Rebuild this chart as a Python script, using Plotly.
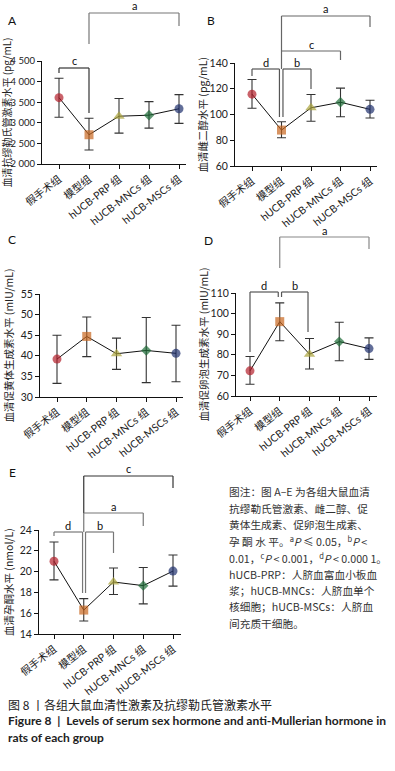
import plotly.graph_objects as go

W, H = 395, 771

categories = ["假手术组", "模型组", "hUCB-PRP 组", "hUCB-MNCs 组", "hUCB-MSCs 组"]

# Panel A: anti-Mullerian hormone (pg/mL)
amh_mean = [3610, 2710, 3160, 3185, 3340]
amh_upper = [4080, 3110, 3590, 3515, 3685]
amh_lower = [3135, 2340, 2750, 2870, 2985]

# Panel B: estradiol (pg/mL)
e2_mean = [115.8, 87.9, 105.2, 109.5, 104.0]
e2_upper = [127.2, 94.4, 115.5, 120.5, 111.1]
e2_lower = [104.8, 81.9, 94.7, 98.3, 97.3]

# Panel C: LH (mIU/mL)
lh_mean = [39.2, 44.7, 40.5, 41.3, 40.6]
lh_upper = [45.0, 49.4, 44.3, 49.3, 47.4]
lh_lower = [33.3, 39.8, 36.7, 33.5, 33.7]

# Panel D: FSH (mIU/mL)
fsh_mean = [72.2, 96.1, 80.3, 86.4, 83.0]
fsh_upper = [79.2, 105.2, 87.9, 95.8, 88.2]
fsh_lower = [65.7, 86.8, 73.1, 77.1, 77.8]

# Panel E: progesterone (nmol/L)
p_mean = [21.0, 16.3, 19.0, 18.65, 20.05]
p_upper = [22.85, 17.4, 20.35, 20.4, 21.6]
p_lower = [19.2, 15.25, 17.8, 16.9, 18.6]

marker_colors = ["#B3202B", "#C8661F", "#A9A23A", "#1D6B36", "#1F306E"]
marker_symbols = ["circle", "square", "triangle-up", "diamond", "circle"]
marker_sizes = [9, 9, 10, 8, 9]

FONT = "Lato, 'Noto Sans CJK SC', sans-serif"
CJK = "'Noto Sans CJK SC', Lato, sans-serif"


def fx(px):
    return px / W


def fy(py):
    return 1 - py / H


panels = [
    dict(name="A", mean=amh_mean, up=amh_upper, lo=amh_lower,
         yr=[2000, 4500], tv=[2000, 2500, 3000, 3500, 4000, 4500],
         tt=["2 000", "2 500", "3 000", "3 500", "4 000", "4 500"], tfs=9.5,
         title="血清抗缪勒氏管激素水平 (pg/mL)", tsize=10,
         xpx=42, xend=186, c0=59, dc=30, ytop=61, ybot=164, lab=(12, 20), tx=6),
    dict(name="B", mean=e2_mean, up=e2_upper, lo=e2_lower,
         yr=[60, 140], tv=[60, 80, 100, 120, 140], tt=["60", "80", "100", "120", "140"], tfs=10.5,
         title="血清雌二醇水平 (pg/mL)", tsize=10.5,
         xpx=235, xend=377, c0=252, dc=29.5, ytop=63, ybot=166, lab=(211, 20), tx=202),
    dict(name="C", mean=lh_mean, up=lh_upper, lo=lh_lower,
         yr=[30, 55], tv=[30, 35, 40, 45, 50, 55], tt=["30", "35", "40", "45", "50", "55"], tfs=10.5,
         title="血清促黄体生成素水平 (mIU/mL)", tsize=10.5,
         xpx=40, xend=183, c0=57, dc=29.75, ytop=294, ybot=397, lab=(12, 239), tx=8),
    dict(name="D", mean=fsh_mean, up=fsh_upper, lo=fsh_lower,
         yr=[60, 110], tv=[60, 70, 80, 90, 100, 110], tt=["60", "70", "80", "90", "100", "110"], tfs=10.5,
         title="血清促卵泡生成素水平 (mIU/mL)", tsize=10.5,
         xpx=236, xend=377, c0=250, dc=29.75, ytop=293, ybot=396, lab=(208, 240), tx=203),
    dict(name="E", mean=p_mean, up=p_upper, lo=p_lower,
         yr=[14, 24], tv=[14, 16, 18, 20, 22, 24], tt=["14", "16", "18", "20", "22", "24"], tfs=10.5,
         title="血清孕酮水平 (nmol/L)", tsize=10.5,
         xpx=39, xend=181, c0=54, dc=29.75, ytop=530, ybot=634, lab=(12, 472), tx=8),
]

# significance brackets: (x0 idx, x1 idx, top px, left-bottom px, right-bottom px, label, colour)
brackets = {
    "A": [(1, 4, 13, 44, 26, "a", "#777777"), (0, 1, 68, 73, 113, "c", "#333333")],
    "B": [(1, 4, 16, 51, 27, "a", "#666666"), (1, 3, 51, 69, 60, "c", "#666666"),
          (0, 0.93, 69, 76, 117, "d", "#555555"), (1.05, 2, 69, 117, 89, "b", "#555555")],
    "D": [(1, 4, 237, 268, 249, "a", "#888888"), (0, 0.95, 292, 352, 297, "d", "#555555"),
          (1.06, 1.95, 292, 297, 332, "b", "#555555")],
    "E": [(1, 4, 476, 513, 488, "c", "#333333"), (1, 3, 513, 532, 526, "a", "#777777"),
          (0, 0.96, 532, 536, 593, "d", "#777777"), (1.06, 2, 532, 593, 553, "b", "#777777")],
}

fig = go.Figure()
shapes = []
annotations = []

for i, p in enumerate(panels):
    k = "" if i == 0 else str(i + 1)
    xa, ya = "x" + k, "y" + k
    err_plus = [u - m for u, m in zip(p["up"], p["mean"])]
    err_minus = [m - l for m, l in zip(p["mean"], p["lo"])]
    fig.add_trace(go.Scatter(
        x=categories, y=p["mean"], xaxis=xa, yaxis=ya, mode="lines+markers",
        line=dict(color="#111111", width=1),
        marker=dict(color=marker_colors, symbol=marker_symbols, size=marker_sizes,
                    line=dict(width=0)),
        error_y=dict(type="data", symmetric=False, array=err_plus, arrayminus=err_minus,
                     color="#333333", thickness=1.1, width=4.5),
        showlegend=False, cliponaxis=False,
    ))
    r0 = (p["xpx"] - p["c0"]) / p["dc"]
    r1 = (p["xend"] - p["c0"]) / p["dc"]
    fig.layout["xaxis" + k] = dict(
        domain=[fx(p["xpx"]), fx(p["xend"])], anchor=ya, range=[r0, r1],
        type="category", showline=True, linecolor="#111111", linewidth=1,
        ticks="outside", ticklen=4, tickcolor="#111111", tickangle=-38,
        tickfont=dict(family=FONT, size=10.5, color="#222222"),
        showgrid=False, zeroline=False, fixedrange=True, automargin=False,
    )
    fig.layout["yaxis" + k] = dict(
        domain=[fy(p["ybot"]), fy(p["ytop"])], anchor=xa, range=p["yr"],
        tickvals=p["tv"], ticktext=p["tt"], showline=True, linecolor="#111111",
        linewidth=1, ticks="outside", ticklen=4, tickcolor="#111111",
        tickfont=dict(family=FONT, size=p["tfs"], color="#222222"),
        showgrid=False, zeroline=False, fixedrange=True, automargin=False,
    )
    annotations.append(dict(
        text=p["title"], x=fx(p["tx"]), y=fy((p["ytop"] + p["ybot"]) / 2),
        xref="paper", yref="paper", showarrow=False, textangle=-90,
        xanchor="center", yanchor="middle",
        font=dict(family=CJK, size=p["tsize"], color="#222222"),
    ))
    annotations.append(dict(
        text=p["name"], x=fx(p["lab"][0]), y=fy(p["lab"][1]), xref="paper", yref="paper",
        showarrow=False, xanchor="center", yanchor="middle",
        font=dict(family=FONT, size=12, color="#111111"),
    ))
    for (x0, x1, top, lb, rb, lab, col) in brackets.get(p["name"], []):
        for (xa0, ya0, xa1, ya1) in [(x0, top, x1, top), (x0, top, x0, lb), (x1, top, x1, rb)]:
            shapes.append(dict(type="line", xref=xa, yref="paper",
                               x0=xa0, x1=xa1, y0=fy(ya0), y1=fy(ya1),
                               line=dict(color=col, width=1.2)))
        annotations.append(dict(
            text=lab, x=(x0 + x1) / 2, y=fy(top - 7), xref=xa, yref="paper",
            showarrow=False, xanchor="center", yanchor="middle",
            font=dict(family=FONT, size=11, color="#111111"),
        ))

note_lines = [
    "图注：图 A–E 为各组大鼠血清",
    "抗缪勒氏管激素、雌二醇、促",
    "黄体生成素、促卵泡生成素、",
    "孕 酮 水 平。<sup>a</sup><i>P</i> ≤ 0.05，<sup>b</sup><i>P</i> <",
    "0.01，<sup>c</sup><i>P</i> < 0.001，<sup>d</sup><i>P</i> < 0.000 1。",
    "hUCB-PRP：人脐血富血小板血",
    "浆；hUCB-MNCs：人脐血单个",
    "核细胞；hUCB-MSCs：人脐血",
    "间充质干细胞。",
]
for j, line in enumerate(note_lines):
    annotations.append(dict(
        text=line, x=fx(227), y=fy(492 + j * 16.4), xref="paper", yref="paper",
        showarrow=False, xanchor="left", yanchor="middle",
        font=dict(family=CJK, size=10.7, color="#333333"),
    ))

caption_cn = "图 8 丨各组大鼠血清性激素及抗缪勒氏管激素水平"
caption_en1 = "Figure 8  |  Levels of serum sex hormone and anti-Mullerian hormone in"
caption_en2 = "rats of each group"
annotations.append(dict(text=caption_cn, x=fx(6), y=fy(704), xref="paper", yref="paper",
                        showarrow=False, xanchor="left", yanchor="middle",
                        font=dict(family=CJK, size=12, color="#222222")))
annotations.append(dict(text="<b>" + caption_en1 + "</b>", x=fx(6), y=fy(720), xref="paper",
                        yref="paper", showarrow=False, xanchor="left", yanchor="middle",
                        font=dict(family="Lato, sans-serif", size=12, color="#222222")))
annotations.append(dict(text="<b>" + caption_en2 + "</b>", x=fx(6), y=fy(737), xref="paper",
                        yref="paper", showarrow=False, xanchor="left", yanchor="middle",
                        font=dict(family="Lato, sans-serif", size=12, color="#222222")))

fig.update_layout(
    width=W, height=H, margin=dict(l=0, r=0, t=0, b=0, autoexpand=False),
    paper_bgcolor="white", plot_bgcolor="white",
    shapes=shapes, annotations=annotations, showlegend=False,
)

fig.write_html(
    "out.html",
    config={"displayModeBar": False},
    post_script="document.body.style.margin='0';document.body.style.overflow='hidden';",
)
